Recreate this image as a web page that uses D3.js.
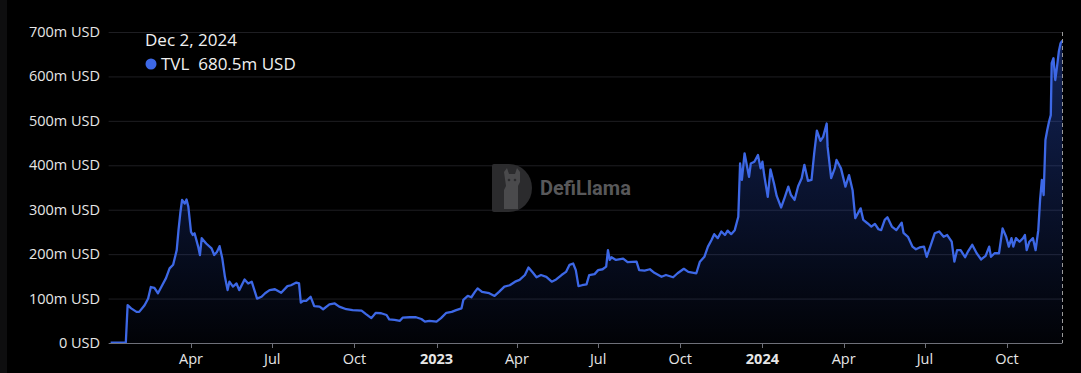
<!DOCTYPE html>
<html><head><meta charset="utf-8">
<script src="https://cdn.jsdelivr.net/npm/d3@7/dist/d3.min.js"></script>
<style>
html,body{margin:0;padding:0;background:#000;overflow:hidden}
svg{display:block;font-family:"Open Sans","Noto Sans",sans-serif}
</style></head><body>
<svg id="c" width="1081" height="373"></svg>
<script>
const dates = ["2022-01-01","2022-01-18","2022-01-20","2022-01-24","2022-01-30","2022-02-02","2022-02-08","2022-02-12","2022-02-15","2022-02-19","2022-02-23","2022-02-27","2022-03-04","2022-03-08","2022-03-12","2022-03-16","2022-03-18","2022-03-20","2022-03-22","2022-03-25","2022-03-27","2022-03-29","2022-04-01","2022-04-03","2022-04-05","2022-04-09","2022-04-11","2022-04-13","2022-04-18","2022-04-24","2022-04-27","2022-04-30","2022-05-03","2022-05-06","2022-05-09","2022-05-12","2022-05-14","2022-05-18","2022-05-22","2022-05-25","2022-05-31","2022-06-04","2022-06-08","2022-06-11","2022-06-14","2022-06-19","2022-06-23","2022-06-28","2022-07-04","2022-07-11","2022-07-18","2022-07-22","2022-07-28","2022-07-31","2022-08-02","2022-08-05","2022-08-08","2022-08-13","2022-08-17","2022-08-23","2022-08-27","2022-09-03","2022-09-09","2022-09-14","2022-09-22","2022-09-29","2022-10-09","2022-10-14","2022-10-20","2022-10-25","2022-10-31","2022-11-06","2022-11-09","2022-11-15","2022-11-21","2022-11-24","2022-12-02","2022-12-09","2022-12-15","2022-12-19","2022-12-24","2023-01-01","2023-01-06","2023-01-12","2023-01-18","2023-01-23","2023-01-29","2023-01-31","2023-02-05","2023-02-09","2023-02-13","2023-02-16","2023-02-21","2023-03-01","2023-03-07","2023-03-12","2023-03-18","2023-03-24","2023-03-30","2023-04-04","2023-04-10","2023-04-14","2023-04-19","2023-04-23","2023-04-28","2023-05-04","2023-05-10","2023-05-15","2023-05-21","2023-05-26","2023-05-30","2023-06-03","2023-06-06","2023-06-09","2023-06-13","2023-06-18","2023-06-21","2023-06-27","2023-07-01","2023-07-06","2023-07-10","2023-07-12","2023-07-14","2023-07-16","2023-07-21","2023-07-29","2023-08-03","2023-08-13","2023-08-16","2023-08-22","2023-08-28","2023-09-02","2023-09-10","2023-09-15","2023-09-23","2023-09-28","2023-10-05","2023-10-10","2023-10-16","2023-10-19","2023-10-23","2023-10-28","2023-11-01","2023-11-05","2023-11-08","2023-11-12","2023-11-16","2023-11-20","2023-11-23","2023-11-27","2023-12-01","2023-12-05","2023-12-07","2023-12-09","2023-12-12","2023-12-17","2023-12-19","2023-12-23","2023-12-27","2023-12-30","2024-01-01","2024-01-03","2024-01-07","2024-01-10","2024-01-14","2024-01-17","2024-01-22","2024-01-26","2024-01-30","2024-02-02","2024-02-06","2024-02-10","2024-02-14","2024-02-17","2024-02-21","2024-02-25","2024-02-28","2024-03-02","2024-03-06","2024-03-09","2024-03-13","2024-03-14","2024-03-18","2024-03-22","2024-03-24","2024-03-29","2024-04-03","2024-04-07","2024-04-11","2024-04-14","2024-04-20","2024-04-23","2024-04-28","2024-05-02","2024-05-06","2024-05-10","2024-05-13","2024-05-17","2024-05-20","2024-05-25","2024-05-30","2024-06-05","2024-06-07","2024-06-12","2024-06-17","2024-06-21","2024-06-25","2024-06-30","2024-07-03","2024-07-07","2024-07-12","2024-07-17","2024-07-22","2024-07-26","2024-07-31","2024-08-03","2024-08-06","2024-08-10","2024-08-15","2024-08-18","2024-08-23","2024-08-28","2024-09-02","2024-09-07","2024-09-11","2024-09-13","2024-09-17","2024-09-22","2024-09-26","2024-09-30","2024-10-03","2024-10-06","2024-10-08","2024-10-11","2024-10-15","2024-10-19","2024-10-21","2024-10-23","2024-10-26","2024-10-30","2024-11-02","2024-11-05","2024-11-07","2024-11-09","2024-11-11","2024-11-13","2024-11-15","2024-11-17","2024-11-19","2024-11-20","2024-11-22","2024-11-24","2024-11-26","2024-11-28","2024-11-30","2024-12-02"];
const tvl = [1,1,85,78,70,70,85,100,126,124,112,127,146,168,176,209,254,292,322,314,323,307,250,243,247,217,198,236,224,213,198,205,218,191,149,119,138,127,134,119,143,134,138,119,100,104,112,119,121,113,128,130,136,134,91,95,95,104,83,82,76,87,89,82,76,74,73,65,56,68,67,63,53,52,50,57,58,58,54,48,50,48,56,68,70,74,78,97,106,103,115,123,115,112,106,115,127,130,138,142,153,170,158,148,153,149,138,143,153,160,176,179,164,128,130,132,153,155,164,166,172,209,187,193,187,190,182,183,164,163,166,158,149,153,148,157,167,160,158,157,183,194,217,232,245,236,251,243,253,245,254,284,404,367,427,374,404,408,423,393,408,378,329,391,359,331,305,328,352,333,322,353,371,401,365,367,427,478,455,464,494,442,371,393,412,393,352,378,344,281,303,277,269,262,268,256,254,277,283,262,254,271,248,239,217,211,215,217,194,217,247,251,239,243,228,183,209,209,193,205,221,202,188,196,217,194,202,202,258,239,217,236,217,236,228,236,243,209,228,236,209,254,322,367,333,457,479,498,513,630,641,592,622,656,675,680.5];
const yTicks = [0,100,200,300,400,500,600,700];
const xTickDates = ["2022-04-01","2022-07-01","2022-10-01","2023-01-01","2023-04-01","2023-07-01","2023-10-01","2024-01-01","2024-04-01","2024-07-01","2024-10-01"];
const xTickLabels = ["Apr","Jul","Oct","2023","Apr","Jul","Oct","2024","Apr","Jul","Oct"];
const tooltipDate = "Dec 2, 2024";
const tooltipLabel = "TVL";
const tooltipValue = "680.5m USD";

const parse = d3.utcParse("%Y-%m-%d");
const data = dates.map((d,i)=>({date:parse(d), v:tvl[i]}));

const svg = d3.select("#c");
const L = 110.65, R = 1062.4, T = 32, B = 343;
const x = d3.scaleUtc().domain([parse("2022-01-01"), parse("2024-12-02")]).range([L, R]);
const y = d3.scaleLinear().domain([0,700]).range([B, T]);

svg.append("rect").attr("width",1081).attr("height",373).attr("fill","#000");
svg.append("rect").attr("width",7).attr("height",373).attr("fill","#0e0e0f");

const defs = svg.append("defs");
const g = defs.append("linearGradient").attr("id","ag").attr("gradientUnits","userSpaceOnUse")
  .attr("x1",0).attr("x2",0).attr("y1",T).attr("y2",B);
g.append("stop").attr("offset","0%").attr("stop-color","#2f5ae0").attr("stop-opacity",0.4);
g.append("stop").attr("offset","100%").attr("stop-color","#2f5ae0").attr("stop-opacity",0.03);

// grid
svg.append("g").selectAll("line").data(yTicks.filter(t=>t>0)).join("line")
  .attr("x1",L-2).attr("x2",R).attr("y1",d=>y(d)+0.5).attr("y2",d=>y(d)+0.5)
  .attr("stroke","#1e1e22").attr("stroke-width",1);

// watermark
const wm = svg.append("g").attr("transform","translate(492,164)");
wm.append("path").attr("d","M2,0 H17 A23,24 0 0 1 17,48 H2 Q0,48 0,46 V2 Q0,0 2,0 Z").attr("fill","#2b2b2d");
wm.append("path").attr("d","M12,8 L15,4 L17,10 L23,10 L25,4 L28,8 L28,18 L26,22 L26,45 L12,45 L12,26 L14,22 Z").attr("fill","#4a4a4c");
wm.append("circle").attr("cx",17).attr("cy",16).attr("r",1.3).attr("fill","#2b2b2d");
wm.append("circle").attr("cx",23).attr("cy",16).attr("r",1.3).attr("fill","#2b2b2d");
svg.append("text").attr("x",540).attr("y",195).attr("fill","#58585a")
  .attr("font-family","Roboto, 'Open Sans', sans-serif").attr("font-weight",700).attr("font-size",20).text("DefiLlama");

// area + line
const area = d3.area().x(d=>x(d.date)).y0(B).y1(d=>y(d.v));
const line = d3.line().x(d=>x(d.date)).y(d=>y(d.v));
svg.append("path").datum(data).attr("d",area).attr("fill","url(#ag)");
svg.append("path").datum(data).attr("d",line).attr("fill","none").attr("stroke","#3d68e6").attr("stroke-width",2.3).attr("stroke-linejoin","round");

// x axis
const xa = svg.append("g").attr("transform",`translate(0,${B})`);
xa.append("line").attr("x1",L-2).attr("x2",R).attr("y1",0.5).attr("y2",0.5).attr("stroke","#6e7079");
xa.selectAll("line.t").data(xTickDates).join("line").attr("class","t")
  .attr("x1",d=>Math.round(x(parse(d)))+0.5).attr("x2",d=>Math.round(x(parse(d)))+0.5)
  .attr("y1",0).attr("y2",5).attr("stroke","#6e7079");
xa.selectAll("text").data(xTickDates).join("text")
  .attr("x",d=>x(parse(d))).attr("y",21).attr("text-anchor","middle")
  .attr("fill","#e6e6e6").attr("font-size",14.5)
  .attr("font-weight",(d,i)=>/^\d+$/.test(xTickLabels[i])?700:400)
  .text((d,i)=>xTickLabels[i]);

// y axis labels
svg.append("g").selectAll("text").data(yTicks).join("text")
  .attr("x",100).attr("y",d=>y(d)+5).attr("text-anchor","end")
  .attr("fill","#e6e6e6").attr("font-size",14.5)
  .text(d=>d===0?"0 USD":d+"m USD");

// crosshair
svg.append("line").attr("x1",Math.round(R)+0.5).attr("x2",Math.round(R)+0.5).attr("y1",T).attr("y2",B)
  .attr("stroke","#9a9a9a").attr("stroke-dasharray","4,3").attr("stroke-width",1);

// tooltip
svg.append("text").attr("x",145).attr("y",46).attr("fill","#f0f0f0").attr("font-size",17).text(tooltipDate);
svg.append("circle").attr("cx",151).attr("cy",64).attr("r",5.5).attr("fill","#3d68e6");
svg.append("text").attr("x",161).attr("y",70).attr("fill","#f0f0f0").attr("font-size",17)
  .attr("xml:space","preserve").text(tooltipLabel+"  "+tooltipValue);
</script>
</body></html>
